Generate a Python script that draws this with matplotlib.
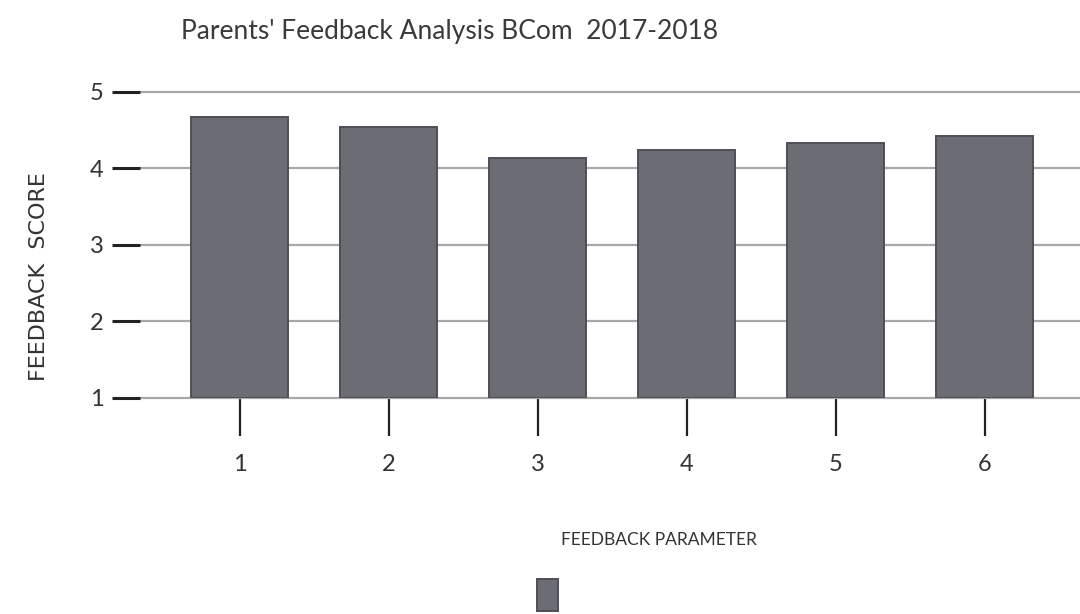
import matplotlib
matplotlib.use("Agg")
from matplotlib import pyplot as plt

# values
parameters = [1, 2, 3, 4, 5, 6]
scores = [4.67, 4.54, 4.14, 4.24, 4.33, 4.42]
score_ticks = [1, 2, 3, 4, 5]

plt.rcParams["font.family"] = ["Lato", "DejaVu Sans"]

fig = plt.figure(figsize=(10.8, 6.14), dpi=100)
ax = fig.add_axes([0.1296, 0.3518, 0.8704, 0.4984])

bar_color = "#6c6c75"
bars = ax.bar(parameters, [s - 1 for s in scores], bottom=1, width=0.65,
              color=bar_color, edgecolor="#4f4f57", linewidth=1.4, zorder=3)

ax.set_ylim(1, 5)
ax.set_xlim(0.33, 6.64)
ax.set_yticks(score_ticks)
ax.set_xticks(parameters)
ax.tick_params(axis="y", length=20, width=2.2, color="#222222", pad=6,
               labelsize=17, labelcolor="#333333")
ax.tick_params(axis="x", length=27, width=1.6, color="#222222", pad=13,
               labelsize=17, labelcolor="#333333")
for s in ax.spines.values():
    s.set_visible(False)
ax.grid(axis="y", color="#a8a8a8", linewidth=1.6, zorder=0)
for gl in ax.get_ygridlines():
    gl.set_clip_on(False)

fig.text(0.4167, 0.948, "Parents' Feedback Analysis BCom  2017-2018",
         ha="center", va="center", fontsize=19, color="#3a3a3a")
fig.text(0.036, 0.549, "FEEDBACK  SCORE", rotation=90, ha="center",
         va="center", fontsize=16, color="#333333", family="DejaVu Sans")
fig.text(0.61, 0.121, "FEEDBACK PARAMETER", ha="center", va="center",
         fontsize=12.5, color="#333333")

leg = fig.legend([bars], [""], loc="upper center",
                 bbox_to_anchor=(0.507, 0.07), frameon=False,
                 handlelength=1.1, handleheight=2.2, handletextpad=0,
                 fontsize=14, borderaxespad=0)

fig.savefig("out.png", dpi=100)
